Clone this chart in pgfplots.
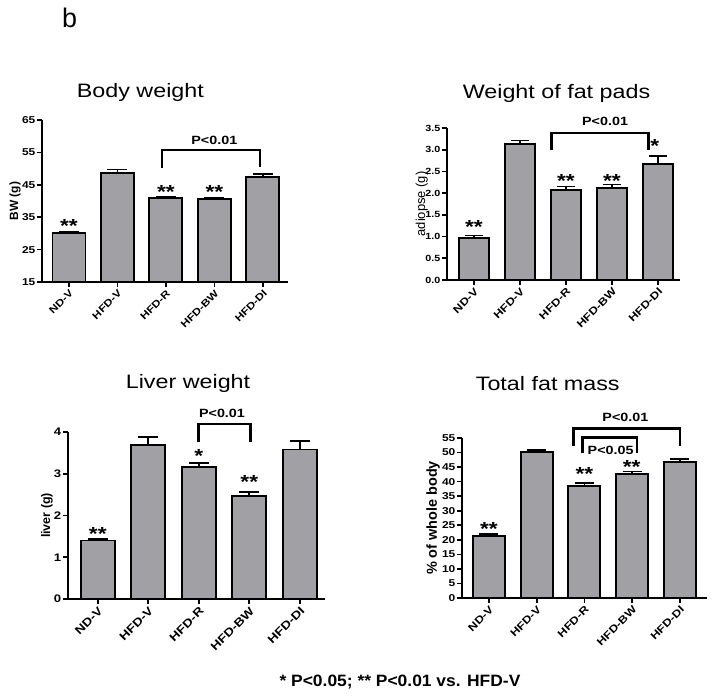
\documentclass[border=0pt]{standalone}
\usepackage{fontspec}
\setmainfont{Liberation Sans}
\newfontfamily\pf{Liberation Sans}[FakeStretch=1.2]
\newfontfamily\ff{Liberation Sans}[FakeStretch=1.06]
\usepackage{pgfplots}
\pgfplotsset{compat=1.18}
\definecolor{bargray}{RGB}{161,161,165}
\newcommand{\fs}[1]{\fontsize{#1}{#1}\selectfont}
\pgfplotsset{
  panel/.style={
    scale only axis, anchor=south west,
    axis lines=left, axis line style={line width=2.5bp, -, black},
    tick align=outside, major tick length=5bp,
    tick style={line width=1.7bp, black},
    minor tick num=0,
    xtick={0,...,4}, xticklabels={ND-V,HFD-V,HFD-R,HFD-BW,HFD-DI},
    xticklabel style={rotate=45, anchor=north east, inner sep=1.5bp},
    yticklabel style={inner sep=1.5bp},
    /pgf/number format/assume math mode=true,
    ylabel style={anchor=center, inner sep=0pt},
    title style={font=\pf\fs{19.5}, anchor=base, inner sep=0pt},
    clip mode=individual,
    ybar,
  },
  bars/.style={fill=bargray, draw=black, line width=1.8bp,
    /pgfplots/error bars/y dir=plus, /pgfplots/error bars/y explicit,
    /pgfplots/error bars/error bar style={line width=1.6bp, black},
    /pgfplots/error bars/error mark options={rotate=90, line width=1.6bp, black, mark size=#1}},
}
\tikzset{
  st/.style={font=\pf\bfseries\fs{19}, anchor=base, yshift=-10.5bp, inner sep=0pt},
  pv/.style={font=\pf\bfseries\fs{12}, inner sep=0pt},
  br/.style={line width=2.5bp, black, line join=miter},
}
\begin{document}
\begin{tikzpicture}
\path[use as bounding box] (0bp,0bp) rectangle (714bp,698bp);
\node[anchor=base west, inner sep=0pt, font=\fs{27}] at (62bp,670bp) {b};

% Panel 1: Body weight
\begin{axis}[panel, at={(42bp,416bp)}, width=246bp, height=162bp,
  xmin=-0.557, xmax=4.52, ymin=15, ymax=65, ytick={15,25,...,65},
  xticklabel style={font=\pf\bfseries\fs{10}},
  yticklabel style={font=\pf\bfseries\fs{10}},
  ylabel={BW (g)}, ylabel style={font=\bfseries\fs{12}, at={(axis description cs:-0.11,0.5)}},
  title={Body weight}, title style={at={(axis description cs:0.40,1)}, yshift=17bp}]
\addplot[bar width=33bp, bars=10bp] coordinates {
  (0,30.0) +- (0,0.5)
  (1,48.6) +- (0,1.1)
  (2,40.9) +- (0,0.5)
  (3,40.6) +- (0,0.5)
  (4,47.3) +- (0,1.0)
};
\node[st] at (axis cs:0,33.5) {**};
\node[st] at (axis cs:2,44.0) {**};
\node[st] at (axis cs:3,44.0) {**};
\draw[br] (axis cs:1.92,50.2) -- (axis cs:1.92,55.7) -- (axis cs:3.94,55.7) -- (axis cs:3.94,50.6);
\node[pv] at (axis cs:3,58.8) {P<0.01};
\end{axis}

% Panel 2: Weight of fat pads
\begin{axis}[panel, at={(447bp,418bp)}, width=233bp, height=152bp,
  xmin=-0.587, xmax=4.48, ymin=0, ymax=3.5, ytick={0,0.5,...,3.5},
  yticklabel style={font=\pf\bfseries\fs{9}, /pgf/number format/.cd, fixed, fixed zerofill, precision=1},
  xticklabel style={font=\pf\bfseries\fs{10.5}},
  ylabel={adiopse (g)}, ylabel style={font=\fs{13}, at={(axis description cs:-0.108,0.5)}},
  title={Weight of fat pads}, title style={at={(axis description cs:0.47,1)}, yshift=24bp}]
\addplot[bar width=30bp, bars=9bp] coordinates {
  (0,0.96) +- (0,0.06)
  (1,3.13) +- (0,0.08)
  (2,2.08) +- (0,0.07)
  (3,2.12) +- (0,0.08)
  (4,2.68) +- (0,0.18)
};
\node[st] at (axis cs:0,1.31) {**};
\node[st] at (axis cs:2,2.38) {**};
\node[st] at (axis cs:3,2.38) {**};
\node[st] at (axis cs:3.93,3.18) {*};
\draw[br] (axis cs:1.69,2.99) -- (axis cs:1.69,3.39) -- (axis cs:3.79,3.39) -- (axis cs:3.79,2.99);
\node[pv] at (axis cs:2.85,3.65) {P<0.01};
\end{axis}

% Panel 3: Liver weight
\begin{axis}[panel, at={(68bp,99bp)}, width=257bp, height=167bp,
  xmin=-0.59, xmax=4.5, ymin=0, ymax=4, ytick={0,1,...,4},
  yticklabel style={font=\pf\bfseries\fs{11}},
  xticklabel style={font=\pf\bfseries\fs{11.5}},
  ylabel={liver (g)}, ylabel style={font=\bfseries\fs{12.5}, at={(axis description cs:-0.082,0.5)}},
  title={Liver weight}, title style={at={(axis description cs:0.467,1)}, yshift=38bp}]
\addplot[bar width=34bp, bars=10bp] coordinates {
  (0,1.40) +- (0,0.04)
  (1,3.69) +- (0,0.19)
  (2,3.16) +- (0,0.10)
  (3,2.47) +- (0,0.10)
  (4,3.58) +- (0,0.20)
};
\node[st] at (axis cs:0,1.65) {**};
\node[st] at (axis cs:2,3.53) {*};
\node[st] at (axis cs:3,2.89) {**};
\draw[br] (axis cs:1.99,3.77) -- (axis cs:1.99,4.19) -- (axis cs:3.02,4.19) -- (axis cs:3.02,3.77);
\node[pv] at (axis cs:2.46,4.45) {P<0.01};
\end{axis}

% Panel 4: Total fat mass
\begin{axis}[panel, at={(462bp,100bp)}, width=245bp, height=160bp,
  xmin=-0.565, xmax=4.57, ymin=0, ymax=55, ytick={0,5,...,55},
  yticklabel style={font=\pf\bfseries\fs{10}},
  xticklabel style={font=\pf\bfseries\fs{10.5}},
  ylabel={\% of whole body}, ylabel style={font=\bfseries\fs{14.5}, at={(axis description cs:-0.118,0.5)}},
  title={Total fat mass}, title style={at={(axis description cs:0.35,1)}, yshift=42bp}]
\addplot[bar width=32bp, bars=9.5bp] coordinates {
  (0,21.2) +- (0,0.7)
  (1,50.3) +- (0,0.6)
  (2,38.5) +- (0,1.0)
  (3,42.6) +- (0,0.9)
  (4,46.7) +- (0,1.0)
};
\node[st] at (axis cs:0,25.1) {**};
\node[st] at (axis cs:2,44.0) {**};
\node[st] at (axis cs:2.99,46.3) {**};
\draw[br] (axis cs:1.77,52.3) -- (axis cs:1.77,58.3) -- (axis cs:4.0,58.3) -- (axis cs:4.0,52.3);
\draw[br] (axis cs:1.96,49.7) -- (axis cs:1.96,55.1) -- (axis cs:3.1,55.1) -- (axis cs:3.1,49.7);
\node[pv] at (axis cs:2.86,62.2) {P<0.01};
\node[pv] at (axis cs:2.55,50.9) {P<0.05};
\end{axis}

\node[anchor=base, inner sep=0pt, font=\ff\bfseries\fs{16.5}] at (400bp,11.5bp) {* P<0.05; ** P<0.01 vs. HFD-V};
\end{tikzpicture}
\end{document}
